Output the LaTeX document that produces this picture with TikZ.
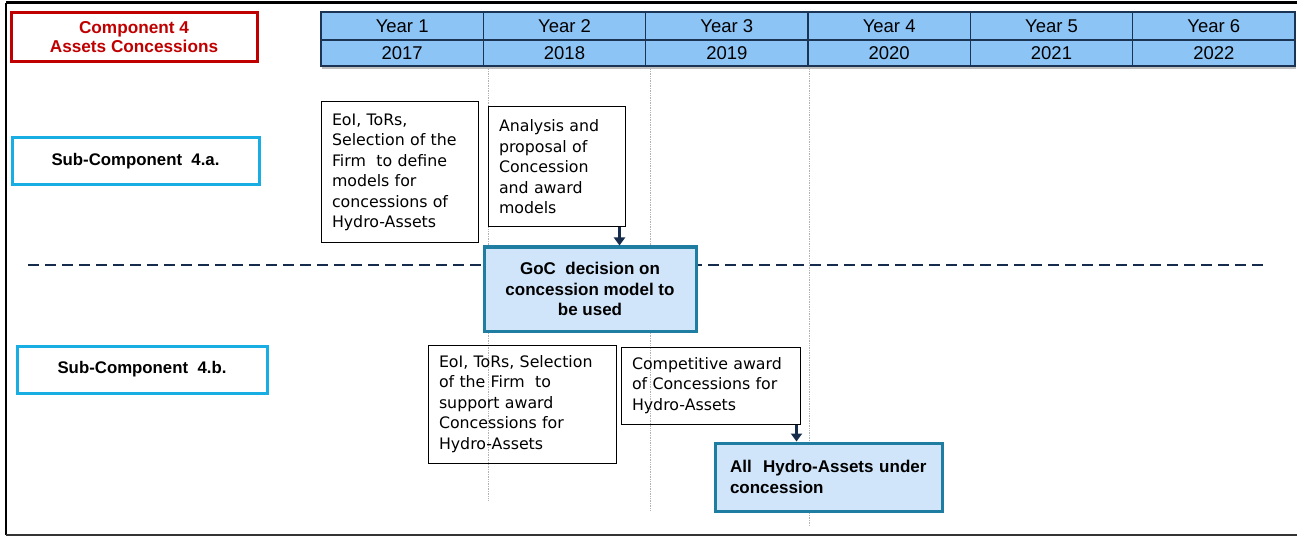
\documentclass[tikz,border=0pt]{standalone}
\usepackage{fontspec}
\setmainfont{Liberation Sans}
\newfontfamily\boxfont{DejaVu Sans}
\usetikzlibrary{arrows.meta}

\definecolor{hdrfill}{RGB}{141,196,246}
\definecolor{hdrline}{RGB}{28,52,84}
\definecolor{compred}{RGB}{192,0,0}
\definecolor{subcyan}{RGB}{24,174,228}
\definecolor{goclin}{RGB}{30,125,160}
\definecolor{gocfill}{RGB}{208,229,250}
\definecolor{navy}{RGB}{22,44,76}

\tikzset{
  yearcell/.style={shape=rectangle,draw=hdrline,fill=hdrfill,line width=1.2pt,minimum width=162.3pt,inner sep=0pt,font=\fontsize{18.5}{20}\selectfont},
  compbox/.style={shape=rectangle,draw=compred,line width=3pt,minimum width=246pt,minimum height=49pt,align=center,text=compred,font=\fontsize{17.2}{19}\selectfont\bfseries},
  subbox/.style={shape=rectangle,draw=subcyan,line width=3pt,minimum height=47pt,align=center,font=\fontsize{16.8}{18}\selectfont\bfseries},
  taskbox/.style={shape=rectangle,draw=black,line width=1pt,align=left,inner xsep=11pt,inner ysep=0pt,font=\boxfont\fontsize{15.8}{20.5}\selectfont},
  keybox/.style={shape=rectangle,draw=goclin,fill=gocfill,line width=3pt,inner ysep=0pt,font=\fontsize{17}{20.5}\selectfont\bfseries},
  arr/.style={-{Triangle[width=11pt,length=8pt]},draw=navy,line width=2.6pt},
  yearline/.style={draw=gray!60,densely dotted,line width=0.7pt}
}

\begin{document}
\begin{tikzpicture}[x=1pt,y=-1pt]
\useasboundingbox (0,0) rectangle (1297,537);
% frame
\draw[line width=3pt] (6,3) -- (1297,3);
\draw[line width=2pt] (6,3) -- (6,535);
\draw[line width=1.5pt,draw=black!80] (6,535) -- (1297,535);

% year lines
\draw[yearline] (488,66) -- (488,500);
\draw[yearline] (650,66) -- (650,510);
\draw[yearline] (809,66) -- (809,526);

% header
\fill[black!25] (322,15) rectangle (1296,69.5);
\foreach \i/\yr in {1/2017,2/2018,3/2019,4/2020,5/2021,6/2022} {
  \node[yearcell,minimum height=28pt] (year\i) at ({321+162.33*(\i-0.5)},26) {Year \i};
  \node[yearcell,minimum height=26pt] (yr\i) at ({321+162.33*(\i-0.5)},53) {\yr};
}

\node[compbox] (comp) at (134,37.5) {Component 4\\Assets Concessions};
\node[subbox,minimum width=247pt] (suba) at (135.5,161) {Sub-Component\ \ 4.a.};
\node[subbox,minimum width=250pt] (subb) at (142,369.5) {Sub-Component\ \ 4.b.};

% dashed separator
\draw[navy,line width=1.8pt,dash pattern=on 11pt off 6pt] (28,265) -- (1265,265);

\node[taskbox,text width=135pt,minimum height=141pt] (firma) at (399.5,172.5) {EoI, ToRs,\\Selection of the\\Firm\ \ to define\\models for\\concessions of\\Hydro-Assets};
\node[taskbox,text width=115pt,minimum height=120pt] (analysis) at (556.5,167) {Analysis and\\proposal of\\Concession\\and award\\models};
\node[keybox,minimum width=212pt,minimum height=84pt,align=center] (goc) at (590,289) {GoC\ \ decision on\\concession model to\\be used};

\node[taskbox,text width=166pt,minimum height=118pt] (firmb) at (522,404) {EoI, ToRs, Selection\\of the Firm\ \ to\\support award\\Concessions for\\Hydro-Assets};
\node[taskbox,text width=157pt,minimum height=77pt] (award) at (710.5,385.5) {Competitive award\\of Concessions for\\Hydro-Assets};
\node[keybox,minimum width=227pt,minimum height=68pt,align=left,text width=197pt,inner xsep=15pt] (final) at (828.5,477) {All\ \ Hydro-Assets under\\concession};

\draw[arr] ([xshift=-6pt]analysis.south east) -- ([xshift=-6pt]analysis.south east |- goc.north);
\draw[arr] ([xshift=-4pt]award.south east) -- ([xshift=-4pt]award.south east |- final.north);
\end{tikzpicture}
\end{document}
